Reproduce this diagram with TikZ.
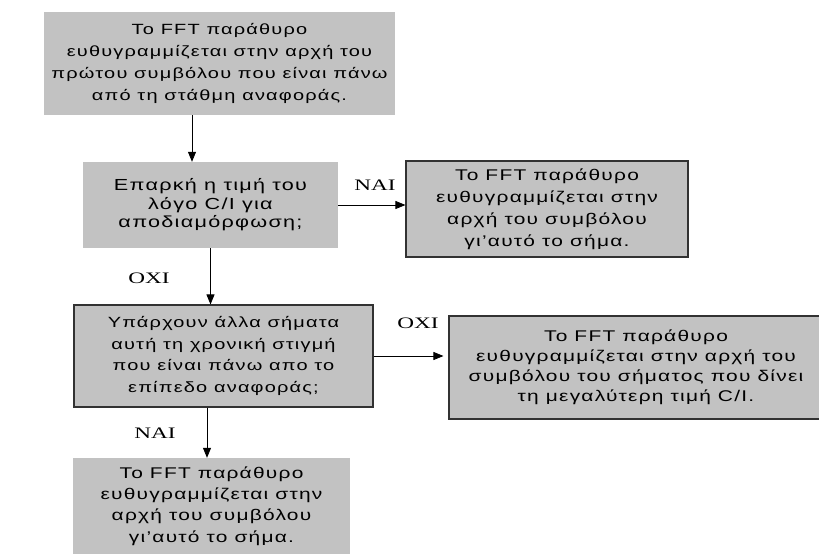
\documentclass[tikz,border=0pt]{standalone}
\usepackage{fontspec}
\setmainfont[FakeStretch=1.35,LetterSpace=8]{Liberation Sans}
\newfontfamily\labelfont[FakeStretch=1.45]{Liberation Serif}
\usetikzlibrary{arrows.meta}
\definecolor{boxgray}{RGB}{194,194,194}
\definecolor{edgegray}{RGB}{50,50,50}
\tikzset{
  flowbox/.style={rectangle, fill=boxgray, inner sep=0pt, align=center},
  framedbox/.style={flowbox, draw=edgegray, line width=1.1pt},
  plainbox/.style={flowbox, draw=none},
  txt/.style 2 args={font=\fontsize{#1}{#2}\selectfont},
  arr/.style={-{Triangle[length=10pt,width=8pt]}, line width=0.8pt, black},
  answer/.style={font=\labelfont\fontsize{16}{18}\selectfont, inner sep=0pt}
}
\begin{document}
\begin{tikzpicture}[x=1pt,y=-1pt]
\useasboundingbox (0,0) rectangle (819,554);
\clip (0,0) rectangle (819,554);

\node[plainbox, txt={14.8}{21.7}, minimum width=351pt, minimum height=103pt] (start) at (219.5,63.5)
  {Το FFT παράθυρο\\ευθυγραμμίζεται στην αρχή του\\πρώτου συμβόλου που είναι πάνω\\από τη στάθμη αναφοράς.};

\node[plainbox, txt={16}{18.5}, minimum width=255pt, minimum height=86pt] (snr) at (210.5,205)
  {Επαρκή η τιμή του\\λόγο C/I για\\αποδιαμόρφωση;};

\node[framedbox, txt={15.5}{22}, minimum width=282pt, minimum height=96pt] (alignone) at (547,209)
  {Το FFT παράθυρο\\ευθυγραμμίζεται στην\\αρχή του συμβόλου\\γι'αυτό το σήμα.};

\node[framedbox, txt={14.8}{21.7}, minimum width=299pt, minimum height=102pt] (others) at (223.5,356)
  {Υπάρχουν άλλα σήματα\\αυτή τη χρονική στιγμή\\που είναι πάνω απο το\\επίπεδο αναφοράς;};

\node[framedbox, txt={15.5}{20}, minimum width=374pt, minimum height=103pt] (alignmax) at (636,367.5)
  {Το FFT παράθυρο\\ευθυγραμμίζεται στην αρχή του\\συμβόλου του σήματος που δίνει\\τη μεγαλύτερη τιμή C/I.};

\node[plainbox, txt={15.5}{21.3}, minimum width=277pt, minimum height=96pt] (aligntwo) at (211.5,506)
  {Το FFT παράθυρο\\ευθυγραμμίζεται στην\\αρχή του συμβόλου\\γι'αυτό το σήμα.};

% connectors
\draw[arr] ([xshift=-27.5pt]start.south) -- ([xshift=-27.5pt]start.south |- snr.north);
\draw[arr] (snr.east) -- (snr.east -| alignone.west);
\draw[arr] (snr.south) -- (snr.south |- others.north);
\draw[arr] (others.east) -- ([xshift=-5pt]others.east -| alignmax.west);
\draw[arr] ([xshift=-16.5pt]others.south) -- ([xshift=-16.5pt]others.south |- aligntwo.north);

% answers
\node[answer] (yesone) at (375,185) {ΝΑΙ};
\node[answer] (noone) at (149,278) {ΟΧΙ};
\node[answer] (notwo) at (418,323) {ΟΧΙ};
\node[answer] (yestwo) at (155,433) {ΝΑΙ};
\end{tikzpicture}
\end{document}
